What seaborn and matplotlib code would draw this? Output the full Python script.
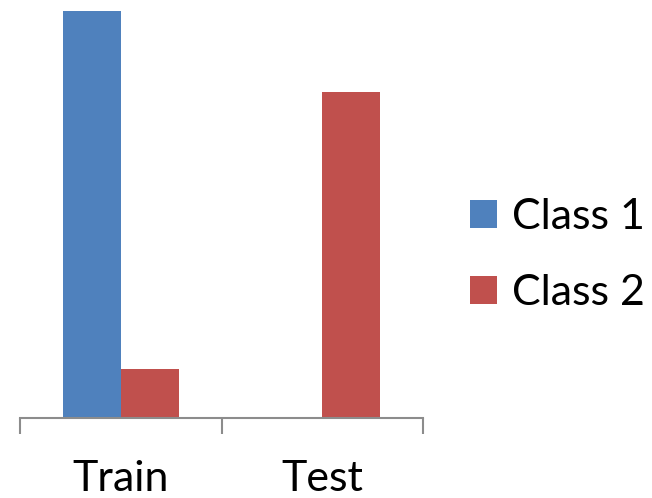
import matplotlib
matplotlib.use("Agg")
import matplotlib.pyplot as plt
import seaborn as sns
import pandas as pd
from matplotlib.patches import Patch

# Class counts per split
splits = ["Train", "Test"]
classes = ["Class 1", "Class 2"]
class1_values = [100, 0]
class2_values = [12, 80]

colors = {"Class 1": "#4F81BD", "Class 2": "#C0504D"}

df = pd.DataFrame({
    "split": splits * 2,
    "cls": [classes[0]] * len(splits) + [classes[1]] * len(splits),
    "value": class1_values + class2_values,
})

sns.set_theme(style="white")
plt.rcParams["font.family"] = ["Lato", "DejaVu Sans"]
plt.rcParams["text.color"] = "black"

fig = plt.figure(figsize=(6.52, 4.98), dpi=100)
ax = fig.add_axes([20 / 652, 80 / 498, 403 / 652, 418 / 498])

sns.barplot(data=df, x="split", y="value", hue="cls", order=splits,
            hue_order=classes, palette=colors, width=0.576, saturation=1,
            linewidth=0, ax=ax, legend=False)

ax.set_xlim(-0.5, 1.5)
ax.set_ylim(0, 100 * 418 / 407)
ax.set_xlabel("")
ax.set_ylabel("")
ax.set_yticks([])
for side in ("left", "right", "top"):
    ax.spines[side].set_visible(False)
ax.spines["bottom"].set_color("#8C8C8C")
ax.spines["bottom"].set_linewidth(1.5)

# Category dividers as ticks, labels centred under each group
ax.set_xticks([-0.5, 0.5, 1.5], minor=True)
ax.tick_params(axis="x", which="minor", length=11.5, width=1.5,
               color="#8C8C8C", direction="out", bottom=True)
ax.tick_params(axis="x", which="major", length=0, pad=30, labelsize=31,
               labelcolor="black")

handles = [Patch(facecolor=colors[c], edgecolor="none", label=c) for c in classes]
leg = fig.legend(handles=handles, loc="center left",
                 bbox_to_anchor=(470 / 652, 243 / 498),
                 frameon=False, fontsize=31, handlelength=0.62, handleheight=0.62,
                 handletextpad=0.35, labelspacing=0.88, borderpad=0,
                 borderaxespad=0)
for t in leg.get_texts():
    t.set_color("black")

fig.savefig("out.png", dpi=100)
